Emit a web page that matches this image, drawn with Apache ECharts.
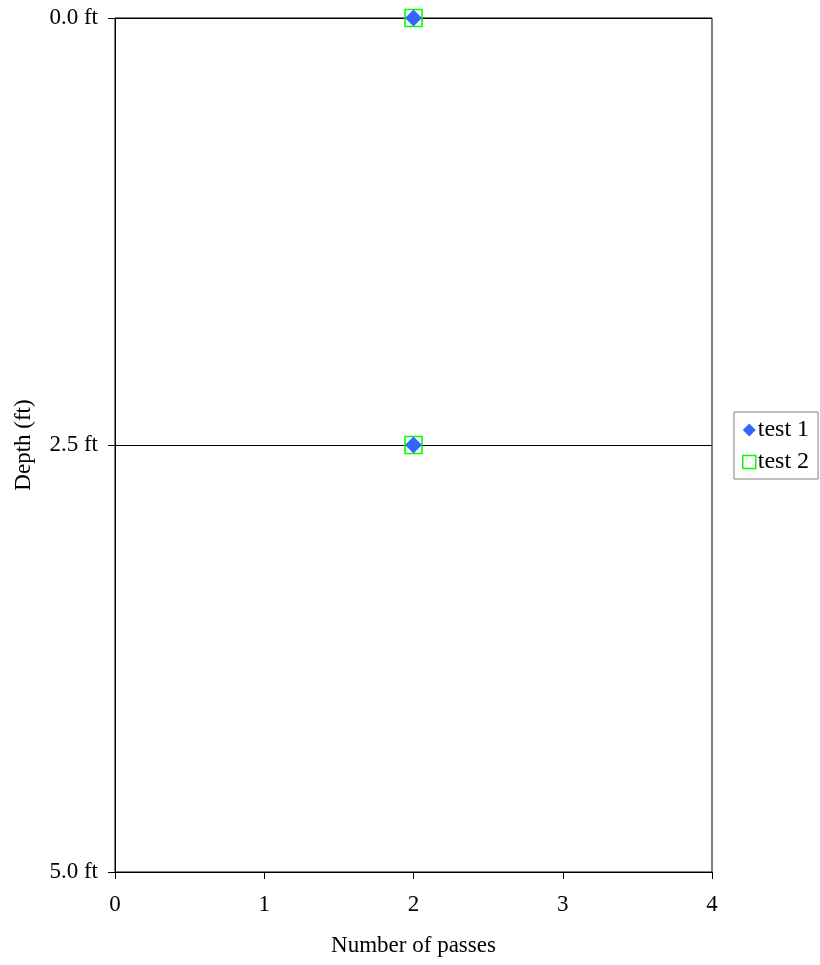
<!DOCTYPE html>
<html><head><meta charset="utf-8">
<script src="https://cdn.jsdelivr.net/npm/echarts@6/dist/echarts.min.js"></script>
<style>html,body{margin:0;padding:0;background:#fff}#c{width:820px;height:965px}</style>
</head><body><div id="c"></div>
<script>
const seriesNames = ['test 1', 'test 2'];
const test1Passes = [2, 2];
const test1Depth = [0, 2.5];
const test2Passes = [2, 2];
const test2Depth = [0, 2.5];
const font = 'Liberation Serif, Times New Roman, serif';
const fs = 23;

const chart = echarts.init(document.getElementById('c'));
chart.setOption({
  animation: false,
  grid: {left: 115, top: 18, width: 597, height: 854, show: true, borderColor: '#000', borderWidth: 1},
  xAxis: {
    type: 'value', min: 0, max: 4, interval: 1,
    name: 'Number of passes', nameLocation: 'middle', nameGap: 62,
    nameTextStyle: {fontFamily: font, fontSize: fs, color: '#000'},
    axisLine: {show: true, onZero: false, lineStyle: {color: '#000'}},
    axisTick: {show: true, length: 7, lineStyle: {color: '#000'}},
    axisLabel: {fontFamily: font, fontSize: fs, color: '#000', margin: 21},
    splitLine: {show: false}
  },
  yAxis: {
    type: 'value', min: 0, max: 5, interval: 2.5, inverse: true,
    name: 'Depth (ft)', nameLocation: 'middle', nameGap: 80, nameRotate: 90,
    nameTextStyle: {fontFamily: font, fontSize: fs, color: '#000'},
    axisLine: {show: true, onZero: false, lineStyle: {color: '#000'}},
    axisTick: {show: true, length: 7, lineStyle: {color: '#000'}},
    axisLabel: {fontFamily: font, fontSize: fs, color: '#000', margin: 17,
      formatter: v => v.toFixed(1) + ' ft'},
    splitLine: {show: true, lineStyle: {color: '#000', width: 1}}
  },
  legend: {
    orient: 'vertical', left: 734, top: 412,
    data: [
      {name: seriesNames[0], icon: 'diamond', itemStyle: {color: '#3366FF', opacity: 1}},
      {name: seriesNames[1], icon: 'rect', itemStyle: {color: 'transparent', borderColor: '#00FF00', borderWidth: 1.5}}
    ],
    itemWidth: 13, itemHeight: 13, itemGap: 8,
    borderColor: '#808080', borderWidth: 1, padding: [6, 9, 5, 8],
    textStyle: {fontFamily: font, fontSize: 24, color: '#000', padding: [0, 0, 0, -3]}
  },
  series: [
    {
      name: seriesNames[0], type: 'scatter', z: 3,
      symbol: 'diamond', symbolSize: 17,
      itemStyle: {color: '#3366FF', opacity: 1},
      data: test1Passes.map((x, i) => [x, test1Depth[i]])
    },
    {
      name: seriesNames[1], type: 'scatter', z: 2,
      symbol: 'rect', symbolSize: 17,
      itemStyle: {color: 'transparent', borderColor: '#00FF00', borderWidth: 1.6, opacity: 1},
      data: test2Passes.map((x, i) => [x, test2Depth[i]])
    }
  ]
});
</script></body></html>
